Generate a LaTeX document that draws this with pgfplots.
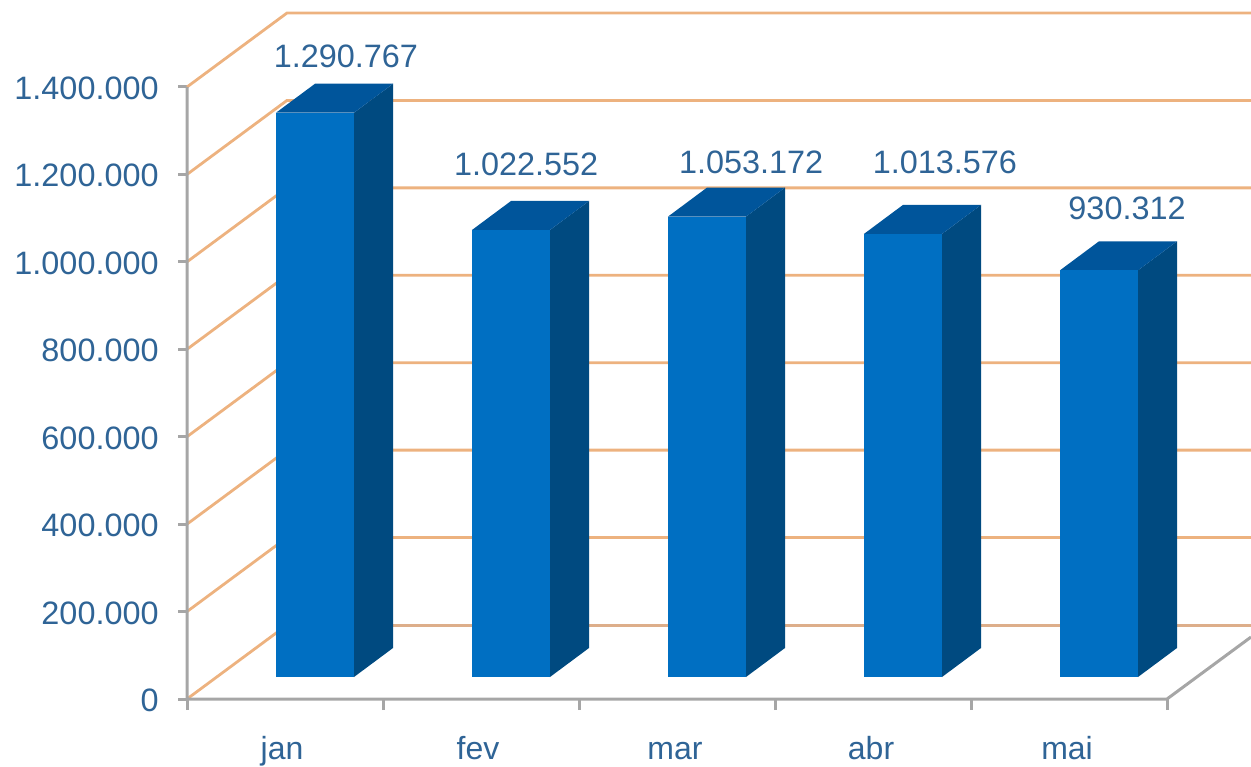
\documentclass[border=0pt]{standalone}
\usepackage{fontspec}
\setmainfont{Liberation Sans}
\usepackage{pgfplots}
\pgfplotsset{compat=1.18}
\definecolor{txt}{HTML}{2F6496}
\definecolor{gridor}{HTML}{EDB27F}
\definecolor{floorl}{HTML}{DDAE8A}
\definecolor{axgray}{HTML}{A6A6A6}
\definecolor{barfront}{HTML}{006FC2}
\definecolor{bartop}{HTML}{00559B}
\definecolor{barside}{HTML}{004A80}

% one picture pixel is 0.5pt; the wall is shifted by 0.5102 / 169281 from the front edge
\newcommand{\wall}[2]{\addplot[gridor, line width=1.4pt] coordinates {(0,#1) (0.5102,#2) (5.4286,#2)};}
% #1 left x, #2 right x, #3 side x, #4 base, #5 base back, #6 top, #7 top back, #8 left back x
\newcommand{\cube}[8]{%
  \addplot[draw=none, fill=barside] coordinates {(#2,#4) (#3,#5) (#3,#7) (#2,#6)} --cycle;
  \addplot[draw=none, fill=bartop] coordinates {(#1,#6) (#8,#7) (#3,#7) (#2,#6)} --cycle;
  \addplot[draw=none, fill=barfront] coordinates {(#1,#4) (#2,#4) (#2,#6) (#1,#6)} --cycle;
}

\begin{document}
\begin{tikzpicture}
\useasboundingbox (0,0) rectangle (625.5pt,383pt);
\begin{axis}[
  at={(93.5pt,33.5pt)},
  anchor=south west,
  scale only axis,
  width=532pt,
  height=343pt,
  xmin=0, xmax=5.4286,
  ymin=0, ymax=1569281,
  clip=false,
  axis x line=bottom,
  axis y line=left,
  axis line style={draw=none},
  tick align=outside,
  tick style={axgray, line width=1.5pt},
  major tick length=4.5pt,
  minor tick length=5.5pt,
  major x tick style={draw=none},
  ytick={0,200000,400000,600000,800000,1000000,1200000,1400000},
  yticklabels={0,200.000,400.000,600.000,800.000,1.000.000,1.200.000,1.400.000},
  yticklabel style={font=\fontsize{16.2}{16.2}\selectfont, text=txt, inner sep=0pt, xshift=-9.5pt, yshift=-0.7pt},
  xtick={0.485,1.485,2.49,3.49,4.49},
  xticklabels={jan,fev,mar,abr,mai},
  minor xtick={0,1,2,3,4,5},
  xticklabel style={font=\fontsize{16}{16}\selectfont, text=txt, inner sep=0pt,
    text height=8.5pt, text depth=3pt, yshift=-17pt},
]
% back walls
\wall{1400000}{1569281}
\wall{1200000}{1369281}
\wall{1000000}{1169281}
\wall{800000}{969281}
\wall{600000}{769281}
\wall{400000}{569281}
\wall{200000}{369281}
\addplot[floorl, line width=1.5pt] coordinates {(0.5102,169281) (5.4286,169281)};
\addplot[gridor, line width=1.4pt] coordinates {(0,0) (0.5102,169281)};
% axis lines
\addplot[axgray, line width=1.5pt] coordinates {(0,1400000) (0,0) (5,0) (5.4286,141800)};
% bars
\cube{0.454}{0.852}{1.051}{50327}{116667}{1341094}{1407434}{0.653}
\cube{1.454}{1.852}{2.051}{50327}{116667}{1072879}{1139219}{1.653}
\cube{2.454}{2.852}{3.051}{50327}{116667}{1103499}{1169839}{2.653}
\cube{3.454}{3.852}{4.051}{50327}{116667}{1063903}{1130243}{3.653}
\cube{4.454}{4.852}{5.051}{50327}{116667}{980639}{1046979}{4.653}
% value labels
\addplot[draw=none, mark=none, point meta=explicit symbolic,
  nodes near coords={\pgfplotspointmeta},
  every node near coord/.style={anchor=center, inner sep=0pt, text=txt, font=\fontsize{16.2}{16.2}\selectfont}]
  coordinates {
    (0.811,1471000)[1.290.767]
    (1.730,1224000)[1.022.552]
    (2.878,1228000)[1.053.172]
    (3.867,1228000)[1.013.576]
    (4.796,1123000)[930.312]
  };
\end{axis}
\end{tikzpicture}
\end{document}
